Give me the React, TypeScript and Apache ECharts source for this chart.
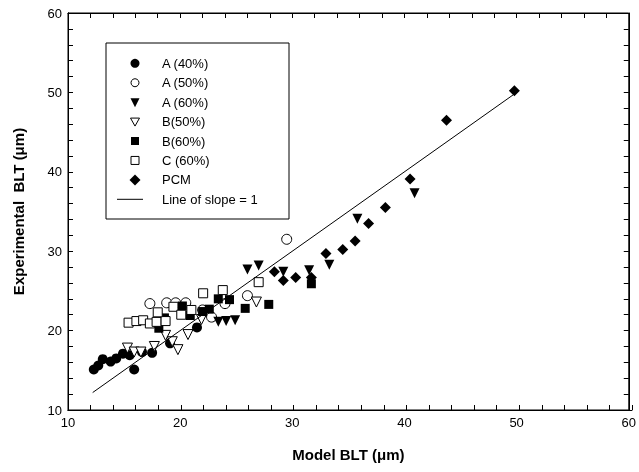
import React, { useEffect, useRef } from "react";
import * as echarts from "echarts";

const FONT = "'Liberation Sans', Arial, Helvetica, sans-serif";

// Series data [model BLT, experimental BLT] in µm
const a40: number[][] = [
  [12.3, 15.1], [12.7, 15.6], [13.1, 16.4], [13.8, 16.1], [14.3, 16.5], [14.9, 17.1],
  [15.5, 16.9], [15.9, 15.1], [16.6, 17.3], [17.5, 17.2], [19.1, 18.4], [21.5, 20.4],
];
const a50: number[][] = [
  [17.3, 23.4], [18.8, 23.5], [19.6, 23.5], [20.5, 23.5], [22.0, 22.6], [22.8, 21.7],
  [24.0, 23.4], [26.0, 24.4], [29.5, 31.5],
];
const a60: number[][] = [
  [23.4, 21.1], [24.1, 21.2], [24.9, 21.3], [26.0, 27.7], [27.0, 28.2], [29.2, 27.4],
  [31.5, 27.6], [33.3, 28.3], [35.8, 34.1], [40.9, 37.3],
];
const b50: number[][] = [
  [15.3, 17.8], [15.9, 17.3], [16.5, 17.3], [17.7, 18.0], [18.7, 19.4], [19.3, 18.6],
  [19.8, 17.6], [20.7, 19.5], [21.9, 21.4], [26.8, 23.6],
];
const b60: number[][] = [
  [18.1, 20.3], [18.6, 21.6], [20.2, 23.1], [20.9, 21.9], [22.0, 22.4], [22.6, 22.7],
  [23.4, 24.0], [24.4, 23.9], [25.8, 22.8], [27.9, 23.3], [31.7, 25.9],
];
const c60: number[][] = [
  [15.4, 21.0], [16.1, 21.2], [16.7, 21.3], [17.3, 20.9], [17.9, 21.1], [18.7, 21.2],
  [18.0, 22.3], [19.4, 23.0], [20.1, 22.0], [21.0, 22.6], [22.05, 24.7], [23.8, 25.1],
  [27.0, 26.1],
];
const pcm: number[][] = [
  [28.4, 27.4], [29.2, 26.3], [30.3, 26.7], [31.7, 26.7], [33.0, 29.7], [34.5, 30.2],
  [35.6, 31.3], [36.8, 33.5], [38.3, 35.5], [40.5, 39.1], [43.75, 46.5], [49.8, 50.2],
];
const slopeLine: number[][] = [[12.2, 12.2], [49.7, 49.7]];

const legendNames = ["A (40%)", "A (50%)", "A (60%)", "B(50%)", "B(60%)", "C (60%)", "PCM", "Line of slope = 1"];

const axisMin = 10;
const axisMax = 60;
const labelInterval = 10;
const tickInterval = 2;

export default function App() {
  const ref = useRef<HTMLDivElement>(null);
  useEffect(() => {
    if (!ref.current) return;
    const chart = echarts.init(ref.current, undefined, { renderer: "svg" });

    const filled = { color: "#000", opacity: 1 };
    const open = { color: "#fff", borderColor: "#000", borderWidth: 1, opacity: 1 };

    const gridRect = { left: 68, right: 7, top: 13, bottom: 62 };

    const base = (gi: number, position: string, extra: any) => ({
      type: "value",
      gridIndex: gi,
      position,
      min: axisMin,
      max: axisMax,
      splitLine: { show: false },
      axisLine: { show: true, lineStyle: { color: "#000" } },
      ...extra,
    });
    // ticks-only axis (every 2 units, pointing into the plot)
    const tickAxis = (gi: number, position: string) =>
      base(gi, position, {
        interval: tickInterval,
        axisLabel: { show: false },
        axisTick: { show: true, inside: true, length: 5, lineStyle: { color: "#000" } },
      });

    const nameStyle = { fontSize: 15, fontWeight: "bold", color: "#000", fontFamily: FONT };
    const labelStyle = { fontSize: 13, color: "#000", margin: 6, fontFamily: FONT };

    // Legend graphics
    const lx = 135;
    const ly0 = 63.3;
    const dy = 19.43;
    const g: any[] = [
      {
        type: "rect",
        shape: { x: 106, y: 43, width: 183, height: 176 },
        style: { fill: "#fff", stroke: "#000", lineWidth: 1 },
        z: 10,
      },
    ];
    legendNames.forEach((name, i) => {
      const cy = ly0 + i * dy;
      let sym: any;
      if (i === 0) sym = { type: "circle", shape: { cx: lx, cy, r: 4.5 }, style: { fill: "#000" } };
      else if (i === 1) sym = { type: "circle", shape: { cx: lx, cy, r: 4 }, style: { fill: "#fff", stroke: "#000", lineWidth: 1 } };
      else if (i === 2) sym = { type: "polygon", shape: { points: [[lx - 4.5, cy - 4], [lx + 4.5, cy - 4], [lx, cy + 5]] }, style: { fill: "#000" } };
      else if (i === 3) sym = { type: "polygon", shape: { points: [[lx - 4.5, cy - 3.5], [lx + 4.5, cy - 3.5], [lx, cy + 4.5]] }, style: { fill: "#fff", stroke: "#000", lineWidth: 1 } };
      else if (i === 4) sym = { type: "rect", shape: { x: lx - 4, y: cy - 4, width: 8, height: 8 }, style: { fill: "#000" } };
      else if (i === 5) sym = { type: "rect", shape: { x: lx - 4, y: cy - 4, width: 8, height: 8 }, style: { fill: "#fff", stroke: "#000", lineWidth: 1 } };
      else if (i === 6) sym = { type: "polygon", shape: { points: [[lx, cy - 5.5], [lx + 5.5, cy], [lx, cy + 5.5], [lx - 5.5, cy]] }, style: { fill: "#000" } };
      else sym = { type: "line", shape: { x1: 117, y1: cy, x2: 143, y2: cy }, style: { stroke: "#000", lineWidth: 1 } };
      sym.z = 11;
      g.push(sym);
      g.push({
        type: "text",
        x: 162,
        y: cy,
        z: 11,
        style: { text: name, fontSize: 13, fontFamily: FONT, fill: "#000", verticalAlign: "middle" },
      });
    });

    const scatter = (name: string, data: number[][], symbol: string, size: number, style: any, rotate = 0) => ({
      name,
      type: "scatter",
      data,
      symbol,
      symbolSize: size,
      symbolRotate: rotate,
      itemStyle: style,
      xAxisIndex: 0,
      yAxisIndex: 0,
    });

    chart.setOption({
      animation: false,
      grid: [
        { ...gridRect, show: true, borderColor: "#000", borderWidth: 1, backgroundColor: "transparent" },
        { ...gridRect },
      ],
      xAxis: [
        base(0, "bottom", {
          interval: labelInterval,
          axisTick: { show: false },
          name: "Model BLT (μm)",
          nameLocation: "middle",
          nameGap: 37,
          nameTextStyle: nameStyle,
          axisLabel: labelStyle,
        }),
        tickAxis(0, "top"),
        tickAxis(1, "bottom"),
      ],
      yAxis: [
        base(0, "left", {
          interval: labelInterval,
          axisTick: { show: false },
          name: "Experimental  BLT (μm)",
          nameLocation: "middle",
          nameGap: 42,
          nameTextStyle: nameStyle,
          axisLabel: labelStyle,
        }),
        tickAxis(0, "right"),
        tickAxis(1, "left"),
      ],
      series: [
        {
          name: "Line of slope = 1",
          type: "line",
          data: slopeLine,
          symbol: "none",
          lineStyle: { color: "#000", width: 1 },
          xAxisIndex: 0,
          yAxisIndex: 0,
        },
        scatter("A (40%)", a40, "circle", 10, filled),
        scatter("A (50%)", a50, "circle", 10, open),
        scatter("A (60%)", a60, "triangle", 10, filled, 180),
        scatter("B(50%)", b50, "triangle", 10, open, 180),
        scatter("B(60%)", b60, "rect", 9, filled),
        scatter("C (60%)", c60, "rect", 9, open),
        scatter("PCM", pcm, "diamond", 11, filled),
      ],
      graphic: g,
    });
    return () => chart.dispose();
  }, []);
  return <div ref={ref} style={{ position: "fixed", left: 0, top: 0, width: 639, height: 472 }} />;
}
